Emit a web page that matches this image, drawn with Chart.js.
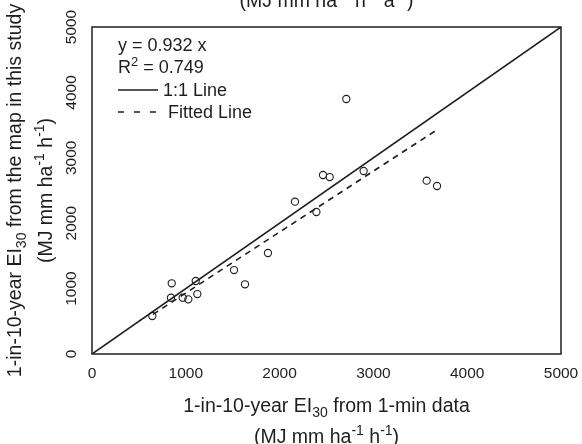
<!DOCTYPE html>
<html>
<head>
<meta charset="utf-8">
<script src="https://cdn.jsdelivr.net/npm/chart.js@4.4.0/dist/chart.umd.min.js"></script>
<style>
  html, body { margin: 0; padding: 0; background: #fff; }
</style>
</head>
<body>
<canvas id="c" width="582" height="444"></canvas>
<script>
// 1-in-10-year EI30 values
var minData = [643, 850, 842, 967, 1027, 1106, 1123, 1514, 1631, 1876, 2164, 2392, 2463, 2534, 2711, 2896, 3568, 3678];
var mapData = [581, 1081, 861, 861, 836, 1116, 917, 1284, 1066, 1544, 2329, 2171, 2737, 2706, 3899, 2798, 2650, 2569];
var oneX = [0, 5000];
var oneY = [0, 5000];
var fitX = [650, 3680];
var fitY = [606, 3430];
var tickValues = [0, 1000, 2000, 3000, 4000, 5000];
var legendLines = ["y = 0.932 x", "R2 = 0.749", "1:1 Line", "Fitted Line"];

var FONT = '"Liberation Sans", Arial, sans-serif';
var INK = "#1e1e1e";

function pairs(xs, ys) {
  var out = [];
  for (var i = 0; i < xs.length; i++) {
    out.push({ x: xs[i], y: ys[i] });
  }
  return out;
}

// draw text with sub/superscripts, centred on (cx, cy)
// parts: [text, mode] where mode 0 = normal, -1 = subscript, 1 = superscript
function drawRich(ctx, parts, cx, cy, size, align) {
  var w = 0;
  parts.forEach(function(p) {
    ctx.font = (p[1] ? size * 0.72 : size) + "px " + FONT;
    w += ctx.measureText(p[0]).width;
  });
  var x = align === "left" ? cx : cx - w / 2;
  ctx.textAlign = "left";
  ctx.textBaseline = "alphabetic";
  parts.forEach(function(p) {
    var s = p[1] ? size * 0.72 : size;
    ctx.font = s + "px " + FONT;
    var dy = p[1] === -1 ? size * 0.28 : (p[1] === 1 ? -size * 0.42 : 0);
    ctx.fillText(p[0], x, cy + size * 0.36 + dy);
    x += ctx.measureText(p[0]).width;
  });
}

var extras = {
  id: "extras",
  afterDraw: function(chart) {
    var ctx = chart.ctx;
    var ca = chart.chartArea;
    var ys = chart.scales.y;
    var midX = (ca.left + ca.right) / 2;
    var midY = (ca.top + ca.bottom) / 2;
    ctx.save();
    ctx.fillStyle = INK;

    // frame
    ctx.strokeStyle = INK;
    ctx.lineWidth = 1.5;
    ctx.strokeRect(ca.left, ca.top, ca.right - ca.left, ca.bottom - ca.top);

    // y tick labels, rotated like R
    tickValues.forEach(function(v) {
      ctx.save();
      ctx.translate(ca.left - 20, ys.getPixelForValue(v));
      ctx.rotate(-Math.PI / 2);
      ctx.font = "15.5px " + FONT;
      ctx.textAlign = "center";
      ctx.textBaseline = "middle";
      ctx.fillText(String(v), 0, 0);
      ctx.restore();
    });

    // x axis title
    drawRich(ctx, [["1-in-10-year EI", 0], ["30", -1], [" from 1-min data", 0]], midX, 405, 19.5);
    drawRich(ctx, [["(MJ mm ha", 0], ["-1", 1], [" h", 0], ["-1", 1], [")", 0]], midX, 436, 19.5);

    // y axis title
    ctx.save();
    ctx.translate(14, midY);
    ctx.rotate(-Math.PI / 2);
    drawRich(ctx, [["1-in-10-year EI", 0], ["30", -1], [" from the map in this study", 0]], 0, 0, 19.5);
    ctx.restore();
    ctx.save();
    ctx.translate(45, midY);
    ctx.rotate(-Math.PI / 2);
    drawRich(ctx, [["(MJ mm ha", 0], ["-1", 1], [" h", 0], ["-1", 1], [")", 0]], 0, 0, 19.5);
    ctx.restore();

    // cut-off title of the panel above
    drawRich(ctx, [["(MJ mm ha", 0], ["-1", 1], [" h", 0], ["-1", 1], [" a", 0], ["-1", 1], [")", 0]], midX, 0, 19.5);

    // legend (no box)
    var lx = ca.left + 26;
    drawRich(ctx, [[legendLines[0], 0]], lx, 45, 18, "left");
    drawRich(ctx, [["R", 0], ["2", 1], [" = 0.749", 0]], lx, 67, 18, "left");
    ctx.lineWidth = 1.5;
    ctx.beginPath();
    ctx.moveTo(lx, 90);
    ctx.lineTo(lx + 40, 90);
    ctx.stroke();
    drawRich(ctx, [[" " + legendLines[2], 0]], lx + 40, 90, 18, "left");
    ctx.setLineDash([6, 10]);
    ctx.beginPath();
    ctx.moveTo(lx, 112);
    ctx.lineTo(lx + 40, 112);
    ctx.stroke();
    ctx.setLineDash([]);
    drawRich(ctx, [["  " + legendLines[3], 0]], lx + 40, 112, 18, "left");

    ctx.restore();
  }
};

new Chart(document.getElementById("c"), {
  type: "scatter",
  data: {
    datasets: [
      {
        label: "Stations",
        data: pairs(minData, mapData),
        pointRadius: 3.6,
        pointBorderWidth: 1.1,
        pointBorderColor: INK,
        pointBackgroundColor: "rgba(0,0,0,0)",
      },
      {
        label: "1:1 Line",
        data: pairs(oneX, oneY),
        showLine: true,
        borderColor: INK,
        borderWidth: 1.6,
        pointRadius: 0,
      },
      {
        label: "Fitted Line",
        data: pairs(fitX, fitY),
        showLine: true,
        borderColor: INK,
        borderWidth: 1.6,
        borderDash: [6, 5],
        pointRadius: 0,
      },
    ],
  },
  options: {
    responsive: false,
    animation: false,
    layout: { padding: { top: 27, right: 21, left: 0, bottom: 0 } },
    plugins: {
      legend: { display: false },
      tooltip: { enabled: false },
    },
    scales: {
      x: {
        type: "linear",
        min: 0,
        max: 5000,
        ticks: {
          stepSize: 1000,
          maxRotation: 0,
          padding: 10,
          color: INK,
          font: { family: FONT, size: 15.5 },
          callback: function(value) { return String(value); },
        },
        grid: { display: false, drawTicks: false },
        border: { display: false },
        afterFit: function(scale) {
          scale.height = 90;
          scale.paddingLeft = 0;
          scale.paddingRight = 0;
        },
      },
      y: {
        type: "linear",
        min: 0,
        max: 5000,
        ticks: { display: false, stepSize: 1000 },
        grid: { display: false, drawTicks: false },
        border: { display: false },
        afterFit: function(scale) { scale.width = 92; },
      },
    },
  },
  plugins: [extras],
});
</script>
</body>
</html>
